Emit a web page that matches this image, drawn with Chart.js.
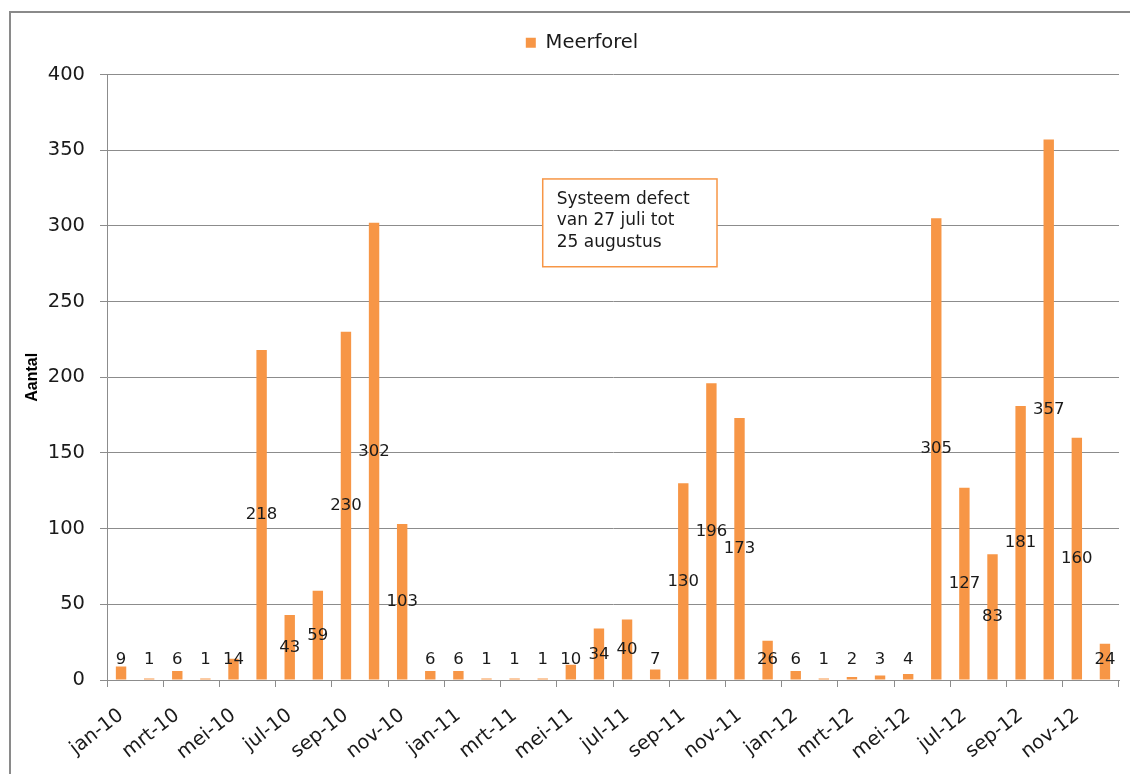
<!DOCTYPE html>
<html>
<head>
<meta charset="utf-8">
<title>Meerforel</title>
<script src="https://cdn.jsdelivr.net/npm/chart.js@4.4.1/dist/chart.umd.min.js"></script>
<style>
  html, body { margin: 0; padding: 0; background: #ffffff; overflow: hidden; }
  #wrap { position: relative; width: 1130px; height: 774px; }
</style>
</head>
<body>
<div id="wrap"><canvas id="c" width="1130" height="774"></canvas></div>
<script>
// Monthly counts, January 2010 to December 2012
const months = [
  'jan-10','feb-10','mrt-10','apr-10','mei-10','jun-10','jul-10','aug-10','sep-10','okt-10','nov-10','dec-10',
  'jan-11','feb-11','mrt-11','apr-11','mei-11','jun-11','jul-11','aug-11','sep-11','okt-11','nov-11','dec-11',
  'jan-12','feb-12','mrt-12','apr-12','mei-12','jun-12','jul-12','aug-12','sep-12','okt-12','nov-12','dec-12'
];
const meerforel = [
  9, 1, 6, 1, 14, 218, 43, 59, 230, 302, 103, 6,
  6, 1, 1, 1, 10, 34, 40, 7, 130, 196, 173, 26,
  6, 1, 2, 3, 4, 305, 127, 83, 181, 357, 160, 24
];
const yTicks = [0, 50, 100, 150, 200, 250, 300, 350, 400];
const seriesName = 'Meerforel';
const yTitle = 'Aantal';
const noteLines = ['Systeem defect', 'van 27 juli tot', '25 augustus'];

const ORANGE = '#F79646';
const AXIS_GREY = '#8c8c8c';
const TEXT = '#1a1a1a';
const FONT = 'DejaVu Sans';

// Grey frame along the left and top edge of the chart object
const framePlugin = {
  id: 'frame',
  beforeDraw(chart) {
    const { ctx, width, height } = chart;
    ctx.save();
    ctx.strokeStyle = '#8a8a8a';
    ctx.lineWidth = 2;
    ctx.beginPath();
    ctx.moveTo(10, height + 5);
    ctx.lineTo(10, 12);
    ctx.lineTo(width + 5, 12);
    ctx.stroke();
    ctx.restore();
  }
};

// Extra room between the legend and the plot
const legendGap = {
  id: 'legendGap',
  beforeInit(chart) {
    const fit = chart.legend.fit;
    chart.legend.fit = function () {
      fit.call(this);
      this.height += 12;
    };
  }
};

// Value written in the middle of each bar (kept clear of the axis for short bars)
const valueLabels = {
  id: 'valueLabels',
  afterDatasetsDraw(chart) {
    const { ctx } = chart;
    const y = chart.scales.y;
    const meta = chart.getDatasetMeta(0);
    ctx.save();
    ctx.font = '16.5px "' + FONT + '"';
    ctx.fillStyle = TEXT;
    ctx.textAlign = 'center';
    ctx.textBaseline = 'middle';
    meta.data.forEach((bar, i) => {
      const v = meerforel[i];
      const py = y.getPixelForValue(Math.max(v / 2, 13.3));
      ctx.fillText(String(v), bar.x, py);
    });
    ctx.restore();
  }
};

// Text box noting the outage period
const noteBox = {
  id: 'noteBox',
  afterDraw(chart) {
    const { ctx } = chart;
    const { x, y } = chart.scales;
    const left = x.getPixelForValue(15);
    const right = x.getPixelForValue(21.2);
    const top = y.getPixelForValue(331);
    const bottom = y.getPixelForValue(273);
    ctx.save();
    ctx.fillStyle = '#ffffff';
    ctx.fillRect(left, top, right - left, bottom - top);
    ctx.strokeStyle = ORANGE;
    ctx.lineWidth = 1.5;
    ctx.strokeRect(left, top, right - left, bottom - top);
    ctx.font = '17px "' + FONT + '"';
    ctx.fillStyle = TEXT;
    ctx.textAlign = 'left';
    ctx.textBaseline = 'middle';
    noteLines.forEach((line, i) => {
      ctx.fillText(line, left + 14, top + 20.5 + i * 21.5);
    });
    ctx.restore();
  }
};

new Chart(document.getElementById('c'), {
  type: 'bar',
  data: {
    labels: months,
    datasets: [{
      label: seriesName,
      data: meerforel,
      backgroundColor: ORANGE,
      borderWidth: 0,
      categoryPercentage: 1,
      barPercentage: 0.37
    }]
  },
  options: {
    responsive: false,
    animation: false,
    layout: { padding: { left: 45, right: 11, top: 11, bottom: 0 } },
    plugins: {
      legend: {
        position: 'top',
        labels: {
          boxWidth: 10,
          boxHeight: 10,
          padding: 22,
          color: TEXT,
          font: { family: FONT, size: 19.5 }
        }
      },
      tooltip: { enabled: false }
    },
    scales: {
      x: {
        offset: true,
        grid: {
          offset: true,
          drawOnChartArea: false,
          tickLength: 7,
          color: (c) => (c.index === undefined || c.index % 2 === 0) ? AXIS_GREY : 'rgba(0,0,0,0)'
        },
        border: { color: AXIS_GREY },
        ticks: {
          autoSkip: false,
          minRotation: 38,
          maxRotation: 38,
          padding: 17,
          color: TEXT,
          font: { family: FONT, size: 19.5 },
          callback: (v, i) => (i % 2 === 0 ? months[i] : '')
        },
        afterFit: (s) => {
          s.height = 94;
          s.paddingLeft = 0;
          s.paddingRight = 0;
        }
      },
      y: {
        min: 0,
        max: 400,
        afterBuildTicks: (s) => { s.ticks = yTicks.map(v => ({ value: v })); },
        grid: { color: AXIS_GREY, tickLength: 7 },
        border: { color: AXIS_GREY },
        ticks: {
          padding: 15,
          color: TEXT,
          font: { family: FONT, size: 19.5 }
        },
        title: {
          display: true,
          text: yTitle,
          color: '#000000',
          font: { family: 'Liberation Sans', weight: 'bold', size: 16 },
          padding: { top: -22, bottom: 0 }
        },
        afterFit: (s) => { s.width = 62; }
      }
    }
  },
  plugins: [framePlugin, legendGap, valueLabels, noteBox]
});
</script>
</body>
</html>
